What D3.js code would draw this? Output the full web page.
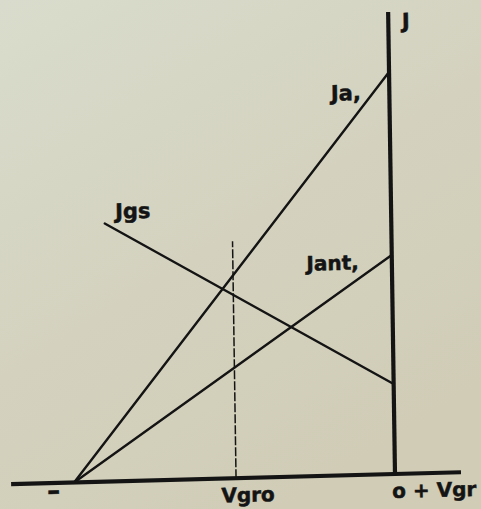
<!DOCTYPE html>
<html>
<head>
<meta charset="utf-8">
<script src="https://cdn.jsdelivr.net/npm/d3@7/dist/d3.min.js"></script>
<style>
  html, body { margin: 0; padding: 0; background: #d5d4c1; }
  svg { display: block; }
  text { font-family: "DejaVu Sans", sans-serif; font-weight: bold; fill: #141414;
         stroke: #141414; stroke-width: 0.5; }
</style>
</head>
<body>
<script>
// Grid voltage (Vg) and current (J) characteristics, arbitrary units.
const axisVg = [-12.8, 2.2];      // extent of the Vg axis
const axisJ = [0, 15.4];          // extent of the J axis
const vgRo = -5.3;                // the Vgro marker
const vgroMarkTop = 7.9;          // top of the Vgro marker line

const seriesNames = ["Ja", "Jant", "Jgs"];
const seriesVg = [[-10.7, 0], [-10.7, 0], [-9.55, 0]];
const seriesJ = [[0, 13.4], [0, 7.3], [8.6, 3.0]];

const W = 481, H = 509;
const origin = { x: 395, y: 474 };

const svg = d3.select("body").append("svg").attr("width", W).attr("height", H);

const defs = svg.append("defs");
const grad = defs.append("linearGradient").attr("id", "paper")
  .attr("x1", 0).attr("y1", 0).attr("x2", 0.6).attr("y2", 1);
grad.append("stop").attr("offset", 0).attr("stop-color", "#d9dccc");
grad.append("stop").attr("offset", 0.55).attr("stop-color", "#d4d2bf");
grad.append("stop").attr("offset", 1).attr("stop-color", "#d0ccb6");
svg.append("rect").attr("width", W).attr("height", H).attr("fill", "url(#paper)");

const x = d3.scaleLinear().domain([0, 1]).range([0, 30]);
const y = d3.scaleLinear().domain([0, 1]).range([0, -30]);

// The drawing sits slightly askew on the sheet.
const g = svg.append("g")
  .attr("transform", `translate(${origin.x},${origin.y}) rotate(-0.85) skewY(-0.65)`);

const ink = "#141414";

// Characteristic lines
const line = d3.line().x(d => x(d[0])).y(d => y(d[1]));
seriesNames.forEach((name, i) => {
  const pts = seriesVg[i].map((v, k) => [v, seriesJ[i][k]]);
  g.append("path").attr("d", line(pts))
    .attr("fill", "none").attr("stroke", ink).attr("stroke-width", 2.4)
    .attr("stroke-linecap", "round");
});

// Vgro marker
g.append("line")
  .attr("x1", x(vgRo)).attr("x2", x(vgRo))
  .attr("y1", y(0)).attr("y2", y(vgroMarkTop))
  .attr("stroke", ink).attr("stroke-width", 1.5)
  .attr("stroke-dasharray", "9,2");

// Axes
g.append("line")
  .attr("x1", x(axisVg[0])).attr("x2", x(axisVg[1]))
  .attr("y1", y(0)).attr("y2", y(0))
  .attr("stroke", ink).attr("stroke-width", 4.2);
g.append("line")
  .attr("x1", x(0)).attr("x2", x(0))
  .attr("y1", y(0)).attr("y2", y(axisJ[1]))
  .attr("stroke", ink).attr("stroke-width", 4.2);

// Labels
const lab = (txt, vx, vy, size) => g.append("text")
  .attr("x", x(vx)).attr("y", y(vy))
  .attr("font-size", size).text(txt);

lab("J", 0.45, 14.85, 21);
lab("Ja,", -1.95, 12.5, 21);
lab("Jgs", -9.2, 8.75, 21);
lab("Jant,", -2.85, 6.85, 20);
lab("–", -11.6, -0.55, 26);
lab("Vgro", -5.8, -0.8, 20);
lab("o + Vgr", -0.1, -0.8, 20);
</script>
</body>
</html>
